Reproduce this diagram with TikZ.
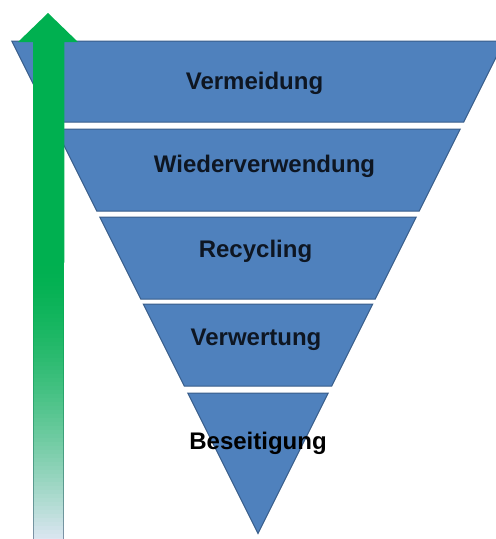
\documentclass[tikz,border=0pt]{standalone}
\usepackage{fontspec}
\setmainfont{Liberation Sans}
\definecolor{bandfill}{HTML}{4F81BD}
\definecolor{bandline}{HTML}{385D8A}
\definecolor{agreen}{HTML}{00B050}
\definecolor{afade}{HTML}{DCE6F2}
\definecolor{aedge}{HTML}{7F91A8}
\definecolor{txt}{HTML}{0E1622}
\begin{document}
\begin{tikzpicture}[x=1pt,y=-1pt,
  band/.style={fill=bandfill,draw=bandline,line width=1pt,line join=miter},
  lbl/.style={font=\fontsize{24}{28}\selectfont\bfseries,text=txt,anchor=base,inner sep=0pt}]
\useasboundingbox (0,0) rectangle (496,539);
\clip (0,0) rectangle (496,539);
% bands
\draw[band] (11.75,41) -- (504.25,41) -- (463.75,122) -- (52.25,122) -- cycle;
\draw[band] (55.75,129) -- (460.25,129) -- (419.25,211) -- (96.75,211) -- cycle;
\draw[band] (99.75,217) -- (416.25,217) -- (375.25,299) -- (140.75,299) -- cycle;
\draw[band] (143.25,304) -- (372.75,304) -- (331.75,386) -- (184.25,386) -- cycle;
\draw[band] (187.75,393) -- (328.25,393) -- (258,533.5) -- cycle;
% arrow: fading part of the shaft, in thin strips (eased fade)
\foreach \i in {0,...,69}{
  \pgfmathsetmacro{\pct}{100*(1-(\i/69)^1.5)}
  \pgfmathsetmacro{\ya}{262+\i*4}
  \pgfmathsetmacro{\yb}{\ya+4.6}
  \fill[agreen!\pct!afade] (33.1,\ya) rectangle (64.4,\yb);
  \fill[agreen!\pct!aedge] (33.1,\ya) rectangle (34.1,\yb);
  \fill[agreen!\pct!aedge] (63.4,\ya) rectangle (64.4,\yb);
}
\fill[agreen] (33.1,262.5) -- (33.1,42) -- (18,42) -- (48,13) -- (78,42) -- (64.4,42) -- (64.4,262.5) -- cycle;
% labels
\node[lbl] (vermeidung) at (254.5,89) {Vermeidung};
\node[lbl] (wieder) at (264.5,172) {Wiederverwendung};
\node[lbl] (recycling) at (255.5,257) {Recycling};
\node[lbl] (verwertung) at (256,345) {Verwertung};
\node[lbl,text=black] (beseitigung) at (258,449) {Beseitigung};
\end{tikzpicture}
\end{document}
